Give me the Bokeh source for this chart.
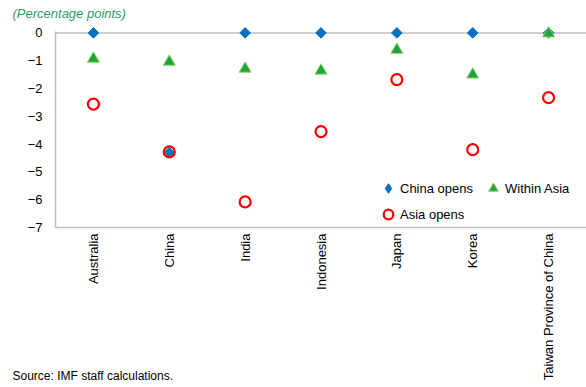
from bokeh.plotting import figure
from bokeh.models import (FactorRange, Range1d, Span, Label, Legend, LegendItem, ColumnDataSource)
from bokeh.embed import file_html
from bokeh.resources import INLINE
import math

categories = ["Australia", "China", "India", "Indonesia", "Japan", "Korea", "Taiwan Province of China"]
china_opens = [0, -4.3, 0, 0, 0, 0, 0]
within_asia = [-0.93, -1.04, -1.29, -1.36, -0.61, -1.5, -0.02]
asia_opens = [-2.56, -4.28, -6.08, -3.55, -1.68, -4.2, -2.33]
y_ticks = [0, -1, -2, -3, -4, -5, -6, -7]

FONT = "Liberation Sans"

p = figure(width=586, height=387, x_range=FactorRange(*categories, range_padding=0),
           y_range=Range1d(-7, 0.05), output_backend="svg", toolbar_location=None,
           min_border_left=55, min_border_right=0, min_border_top=31, min_border_bottom=160)
p.outline_line_color = None
p.xgrid.grid_line_color = None
p.ygrid.grid_line_color = None
p.background_fill_color = "white"
# range used only so the legend's diamond swatch has data but draws nothing in the plot
p.extra_y_ranges = {"legend_only": Range1d(100, 101)}

# axes
p.yaxis.ticker = y_ticks
p.yaxis.axis_line_color = "#BFBFBF"
p.yaxis.axis_line_width = 1.5
p.yaxis.major_tick_line_color = None
p.yaxis.minor_tick_line_color = None
p.yaxis.major_tick_out = 0
p.yaxis.major_label_standoff = 13
p.yaxis.major_label_text_font = FONT
p.yaxis.major_label_text_font_size = "13px"
p.yaxis.major_label_text_color = "#000000"

p.xaxis.axis_line_color = "#BFBFBF"
p.xaxis.axis_line_width = 1.5
p.xaxis.major_tick_line_color = None
p.xaxis.major_tick_out = 0
p.xaxis.major_label_standoff = 6
p.xaxis.major_label_orientation = math.pi / 2
p.xaxis.major_label_text_font = FONT
p.xaxis.major_label_text_font_size = "13px"
p.xaxis.major_label_text_color = "#000000"

# zero line
p.add_layout(Span(location=0, dimension="width", line_color="#BFBFBF", line_width=1.5))

src = ColumnDataSource(dict(cat=categories, china=china_opens, within=within_asia, asia=asia_opens))

r1 = p.scatter("cat", "china", source=src, marker="square", angle=math.pi / 4, size=7.5,
               fill_color="#0070C0", line_color="#0070C0", level="overlay")
r2 = p.scatter("cat", "within", source=src, marker="triangle", size=12,
               fill_color="#1FA33B", line_color="#8FD16B", line_width=1, level="overlay")
r3 = p.scatter("cat", "asia", source=src, marker="circle", size=11,
               fill_color=None, line_color="#FF0000", line_width=2.2, level="overlay")

l1 = p.scatter("cat", "china", source=src, y_range_name="legend_only",
               marker="diamond", size=11, fill_color="#0070C0", line_color="#0070C0")

legend = Legend(items=[LegendItem(label="China opens", renderers=[l1]),
                       LegendItem(label="Asia opens", renderers=[r3]),
                       LegendItem(label="Within Asia", renderers=[r2])],
                location=(321, 1), ncols=2, border_line_color=None, background_fill_alpha=0,
                label_text_font=FONT, label_text_font_size="13px", label_text_color="#000000",
                glyph_width=24, glyph_height=24, label_standoff=0, spacing=2, label_height=16,
                label_width=79, padding=0, margin=0)
p.add_layout(legend)

p.add_layout(Label(x=-43, y=18, x_units="screen", y_units="screen", text="(Percentage points)",
                   text_font=FONT, text_font_size="13px", text_font_style="italic",
                   text_color="#2D9A66", text_baseline="middle"), "above")
p.add_layout(Label(x=-43, y=-359.5, x_units="screen", y_units="screen", text="Source: IMF staff calculations.",
                   text_font=FONT, text_font_size="12px", text_color="#000000", text_baseline="middle"),
             "above")

open("out.html", "w").write(file_html(p, INLINE))
